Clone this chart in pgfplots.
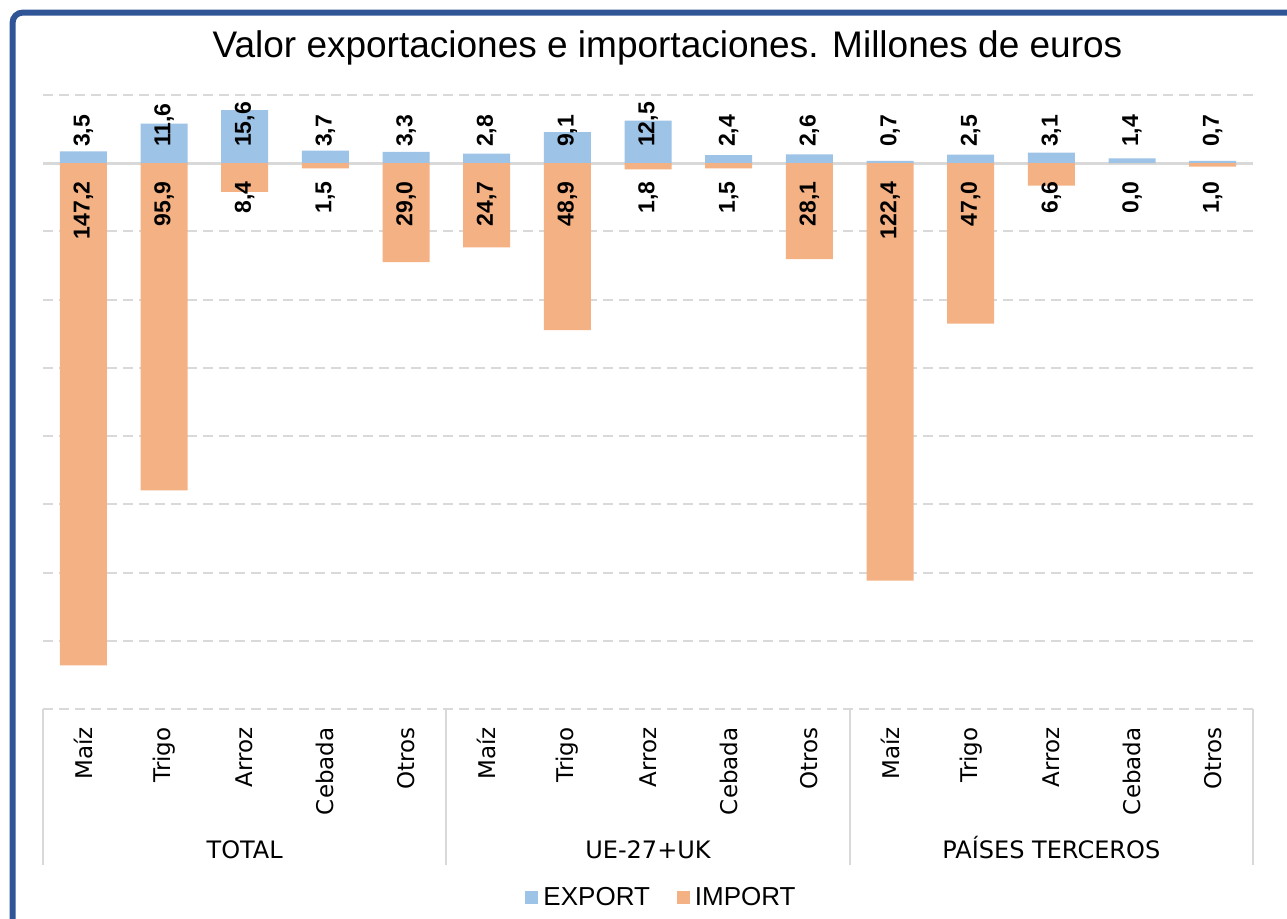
\documentclass[border=0pt]{standalone}
\usepackage{pgfplots}
\pgfplotsset{compat=1.18}
\usepackage{pgfplotstable}
\usepackage{fontspec}
\setmainfont{Liberation Sans}
\newfontfamily\dejavu{DejaVu Sans}

\definecolor{expblue}{HTML}{9DC3E6}
\definecolor{imporange}{HTML}{F4B183}
\definecolor{gridgray}{HTML}{D9D9D9}
\definecolor{frameblue}{HTML}{2F5597}

% x, export, import (negative), labels
\pgfplotstableread{
x  zero exp   imp     explab implab
0  0    3.5   -147.2  3,5    147,2
1  0    11.6  -95.9   11,6   95,9
2  0    15.6  -8.4    15,6   8,4
3  0    3.7   -1.5    3,7    1,5
4  0    3.3   -29.0   3,3    29,0
5  0    2.8   -24.7   2,8    24,7
6  0    9.1   -48.9   9,1    48,9
7  0    12.5  -1.8    12,5   1,8
8  0    2.4   -1.5    2,4    1,5
9  0    2.6   -28.1   2,6    28,1
10 0    0.7   -122.4  0,7    122,4
11 0    2.5   -47.0   2,5    47,0
12 0    3.1   -6.6    3,1    6,6
13 0    1.4   0.0     1,4    0,0
14 0    0.7   -1.0    0,7    1,0
}\datatable

\begin{document}
\begin{tikzpicture}
\useasboundingbox (0,0) rectangle (643.5pt,459pt);
\begin{axis}[
  at={(21.5pt,104.5pt)}, anchor=south west,
  scale only axis, width=605pt, height=307pt,
  xmin=-0.5, xmax=14.5, ymin=-160, ymax=20,
  axis line style={draw=none},
  major tick length=0pt,
  ytick={-160,-140,...,20}, yticklabels={},
  ymajorgrids,
  grid style={gridgray, line width=1pt, dash pattern=on 5pt off 3pt},
  extra y ticks={0}, extra y tick labels={},
  extra y tick style={grid style={gridgray, line width=1.5pt, solid}},
  xtick={0,...,14},
  xticklabels={Maíz,Trigo,Arroz,Cebada,Otros,Maíz,Trigo,Arroz,Cebada,Otros,Maíz,Trigo,Arroz,Cebada,Otros},
  xticklabel style={rotate=90, anchor=east, inner xsep=9pt, font=\dejavu\fontsize{11.5}{12}\selectfont},
  clip=false,
  legend style={draw=none, at={(0.5116,-0.3078)}, anchor=center, legend columns=-1,
    font=\fontsize{13}{14}\selectfont, nodes={inner sep=1.5pt},
    /tikz/every even column/.append style={column sep=12pt}},
]
\addplot[ybar, bar width=23.5pt, bar shift=0pt, fill=expblue, draw=none,
  legend image code/.code={\fill[expblue] (0pt,-3.25pt) rectangle (6.5pt,3.25pt);}]
  table[x=x, y=exp] {\datatable};
\addlegendentry{\hspace{1pt}EXPORT}
\addplot[ybar, bar width=23.5pt, bar shift=0pt, fill=imporange, draw=none,
  legend image code/.code={\fill[imporange] (0pt,-3.25pt) rectangle (6.5pt,3.25pt);}]
  table[x=x, y=imp] {\datatable};
\addlegendentry{\hspace{1pt}IMPORT}

\addplot[forget plot, draw=none, nodes near coords, point meta=explicit symbolic,
  every node near coord/.append style={rotate=90, anchor=west, inner xsep=8pt, inner ysep=0pt,
    font=\bfseries\fontsize{11.5}{12}\selectfont, black}]
  table[x=x, y=zero, meta=explab] {\datatable};
\addplot[forget plot, draw=none, nodes near coords, point meta=explicit symbolic,
  every node near coord/.append style={rotate=90, anchor=east, inner xsep=9pt, inner ysep=0pt,
    font=\bfseries\fontsize{11.5}{12}\selectfont, black}]
  table[x=x, y=zero, meta=implab] {\datatable};

% group separators
\draw[gridgray, line width=1pt] (axis cs:-0.5,-160) -- ++(0pt,-78pt);
\draw[gridgray, line width=1pt] (axis cs:4.5,-160) -- ++(0pt,-78pt);
\draw[gridgray, line width=1pt] (axis cs:9.5,-160) -- ++(0pt,-78pt);
\draw[gridgray, line width=1pt] (axis cs:14.5,-160) -- ++(0pt,-78pt);
\node[anchor=base, font=\dejavu\fontsize{12}{14}\selectfont] at ([yshift=-74.5pt]axis cs:2,-160) {TOTAL};
\node[anchor=base, font=\dejavu\fontsize{12}{14}\selectfont] at ([yshift=-74.5pt]axis cs:7,-160) {UE-27+UK};
\node[anchor=base, font=\dejavu\fontsize{12}{14}\selectfont] at ([yshift=-74.5pt]axis cs:12,-160) {PAÍSES TERCEROS};
\end{axis}
\node[anchor=base, font=\fontsize{18.5}{20}\selectfont] at (333.75pt,430pt)
  {Valor exportaciones e importaciones. Millones de euros};
\draw[frameblue, line width=3pt, rounded corners=5pt] (6.3pt,-10pt) -- (6.3pt,452.7pt) -- (660pt,452.7pt);
\end{tikzpicture}
\end{document}
